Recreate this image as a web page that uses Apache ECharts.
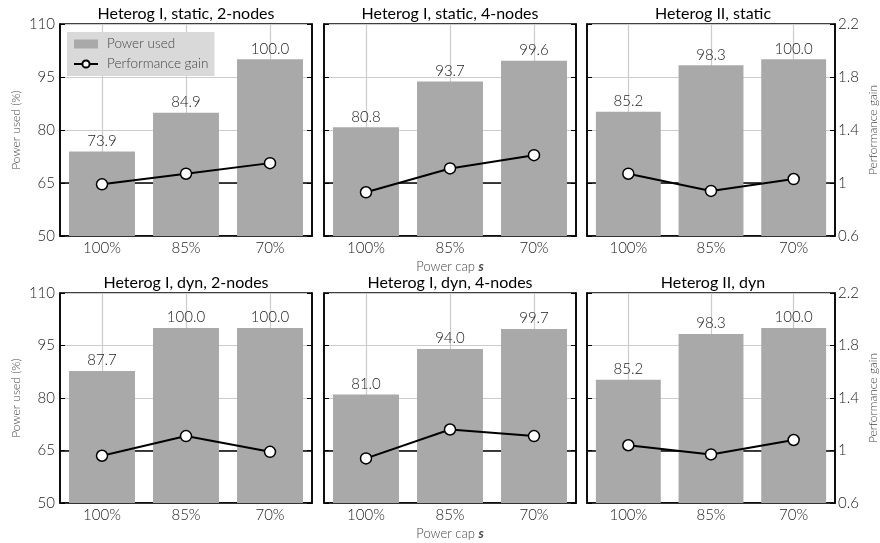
<!DOCTYPE html>
<html>
<head>
<meta charset="utf-8">
<script src="https://cdn.jsdelivr.net/npm/echarts@6/dist/echarts.min.js"></script>
<style>
html,body{margin:0;padding:0;background:#fff;}
#chart{width:880px;height:543px;}
</style>
</head>
<body>
<div id="chart"></div>
<script>
const CATEGORIES = ['100%', '85%', '70%'];
const PANEL_TITLES = [
  'Heterog I, static, 2-nodes', 'Heterog I, static, 4-nodes', 'Heterog II, static',
  'Heterog I, dyn, 2-nodes', 'Heterog I, dyn, 4-nodes', 'Heterog II, dyn'
];
const POWER_STATIC_2N = [73.9, 84.9, 100.0];
const POWER_STATIC_4N = [80.8, 93.7, 99.6];
const POWER_STATIC_II = [85.2, 98.3, 100.0];
const POWER_DYN_2N = [87.7, 100.0, 100.0];
const POWER_DYN_4N = [81.0, 94.0, 99.7];
const POWER_DYN_II = [85.2, 98.3, 100.0];
const GAIN_STATIC_2N = [0.99, 1.07, 1.15];
const GAIN_STATIC_4N = [0.93, 1.11, 1.21];
const GAIN_STATIC_II = [1.07, 0.94, 1.03];
const GAIN_DYN_2N = [0.96, 1.11, 0.99];
const GAIN_DYN_4N = [0.94, 1.16, 1.11];
const GAIN_DYN_II = [1.04, 0.97, 1.08];
const POWER_TICKS = [50, 65, 80, 95, 110];
const GAIN_TICKS = [0.6, 1, 1.4, 1.8, 2.2];
const GAIN_REFERENCE = 1;

const POWER = [POWER_STATIC_2N, POWER_STATIC_4N, POWER_STATIC_II, POWER_DYN_2N, POWER_DYN_4N, POWER_DYN_II];
const GAIN = [GAIN_STATIC_2N, GAIN_STATIC_4N, GAIN_STATIC_II, GAIN_DYN_2N, GAIN_DYN_4N, GAIN_DYN_II];

const FONT = 'Lato, "DejaVu Sans", sans-serif';
const lefts = [60, 324, 587];
const PW = 252;
const tops = [24, 293];
const heights = [212, 210];

const grid = [], xAxis = [], yAxis = [], series = [], title = [];
for (let i = 0; i < 6; i++) {
  const col = i % 3, row = Math.floor(i / 3);
  grid.push({left: lefts[col], top: tops[row], width: PW, height: heights[row],
    show: true, borderColor: '#000', borderWidth: 1.5, backgroundColor: '#fff'});
  title.push({text: PANEL_TITLES[i], left: lefts[col] + PW / 2, top: row === 0 ? 6 : 275,
    textAlign: 'center', padding: 0,
    textStyle: {fontFamily: FONT, fontSize: 16, fontWeight: 400, color: '#000'}});
  xAxis.push({type: 'category', gridIndex: i, data: CATEGORIES, boundaryGap: true,
    axisLine: {show: true, onZero: false, lineStyle: {color: '#000', width: 1.5}},
    axisTick: {show: false},
    splitLine: {show: false},
    axisLabel: {fontFamily: FONT, fontWeight: 300, fontSize: 15, color: '#222', margin: 5},
    name: col === 1 ? '{n|Power cap }{s|s}' : '',
    nameLocation: 'middle', nameGap: 24,
    nameTextStyle: {rich: {
      n: {fontFamily: FONT, fontWeight: 300, fontSize: 13, color: '#444'},
      s: {fontFamily: FONT, fontWeight: 700, fontStyle: 'italic', fontSize: 13, color: '#444'}
    }}
  });
  yAxis.push({type: 'value', gridIndex: i, position: 'left',
    min: POWER_TICKS[0], max: POWER_TICKS[POWER_TICKS.length - 1], interval: POWER_TICKS[1] - POWER_TICKS[0],
    axisLine: {show: true, onZero: false, lineStyle: {color: '#000', width: 1.5}},
    axisTick: {show: true, inside: true, length: 5, lineStyle: {color: '#000', width: 1}},
    splitLine: {show: true, lineStyle: {color: '#cccccc', width: 1.2}},
    axisLabel: {show: col === 0, fontFamily: FONT, fontWeight: 300, fontSize: 15, color: '#222', margin: 5},
    name: col === 0 ? 'Power used (%)' : '', nameLocation: 'middle', nameGap: 38,
    nameTextStyle: {fontFamily: FONT, fontWeight: 300, fontSize: 12, color: '#444'}
  });
  yAxis.push({type: 'value', gridIndex: i, position: 'right',
    min: GAIN_TICKS[0], max: GAIN_TICKS[GAIN_TICKS.length - 1], interval: 0.2,
    axisLine: {show: true, onZero: false, lineStyle: {color: '#000', width: 1.5}},
    axisTick: {show: false},
    splitLine: {show: false},
    axisLabel: {show: col === 2, fontFamily: FONT, fontWeight: 300, fontSize: 15, color: '#222', margin: 3,
      formatter: v => GAIN_TICKS.some(t => Math.abs(t - v) < 1e-6) ? String(+v.toFixed(1)) : ''},
    name: col === 2 ? 'Performance gain' : '', nameLocation: 'middle', nameGap: 32,
    nameTextStyle: {fontFamily: FONT, fontWeight: 300, fontSize: 12, color: '#444'}
  });
  yAxis.push({type: 'value', gridIndex: i, position: 'right',
    min: POWER_TICKS[0], max: POWER_TICKS[POWER_TICKS.length - 1], interval: POWER_TICKS[1] - POWER_TICKS[0],
    axisLine: {show: false, onZero: false},
    axisTick: {show: true, inside: true, length: 5, lineStyle: {color: '#000', width: 1}},
    splitLine: {show: false}, axisLabel: {show: false}
  });

  // vertical gridlines at category centres (behind bars)
  series.push({type: 'line', name: 'vgrid', xAxisIndex: i, yAxisIndex: 3 * i, data: [], z: 1,
    silent: true,
    markLine: {silent: true, z: 1, symbol: 'none', label: {show: false}, animation: false,
      lineStyle: {color: '#cccccc', width: 1.2, type: 'solid'},
      data: CATEGORIES.map(c => ({xAxis: c}))}
  });
  // reference line at gain = 1 (behind bars)
  series.push({type: 'line', name: 'ref', xAxisIndex: i, yAxisIndex: 3 * i + 1, data: [], z: 1,
    silent: true,
    markLine: {silent: true, z: 1.5, symbol: 'none', label: {show: false}, animation: false,
      lineStyle: {color: '#000', width: 1.5, type: 'solid'},
      data: [{yAxis: GAIN_REFERENCE}]}
  });
  series.push({type: 'bar', name: 'Power used', xAxisIndex: i, yAxisIndex: 3 * i,
    data: POWER[i], barCategoryGap: '21.5%', z: 2,
    itemStyle: {color: '#a9a9a9'},
    label: {show: true, position: 'top', distance: 3, formatter: p => p.value.toFixed(1),
      fontFamily: FONT, fontWeight: 300, fontSize: 15, color: '#222'}
  });
  series.push({type: 'line', name: 'Performance gain', xAxisIndex: i, yAxisIndex: 3 * i + 1,
    data: GAIN[i], z: 3, symbol: 'circle', symbolSize: 11,
    lineStyle: {color: '#000', width: 2},
    itemStyle: {color: '#fff', borderColor: '#000', borderWidth: 1.5}
  });
}

const chart = echarts.init(document.getElementById('chart'), null, {renderer: 'canvas'});
chart.setOption({
  animation: false,
  backgroundColor: '#fff',
  title: title,
  grid: grid,
  xAxis: xAxis,
  yAxis: yAxis,
  legend: {
    show: true, orient: 'vertical', left: 67, top: 32,
    backgroundColor: '#d9d9d9', padding: [5, 6, 5, 6], itemGap: 6,
    itemWidth: 24, itemHeight: 9,
    textStyle: {fontFamily: FONT, fontWeight: 300, fontSize: 13.5, color: '#444', padding: [0, 0, 0, 4]},
    data: [
      {name: 'Power used', icon: 'rect', itemStyle: {color: '#a9a9a9'}},
      {name: 'Performance gain'}
    ]
  },
  series: series
});
</script>
</body>
</html>
